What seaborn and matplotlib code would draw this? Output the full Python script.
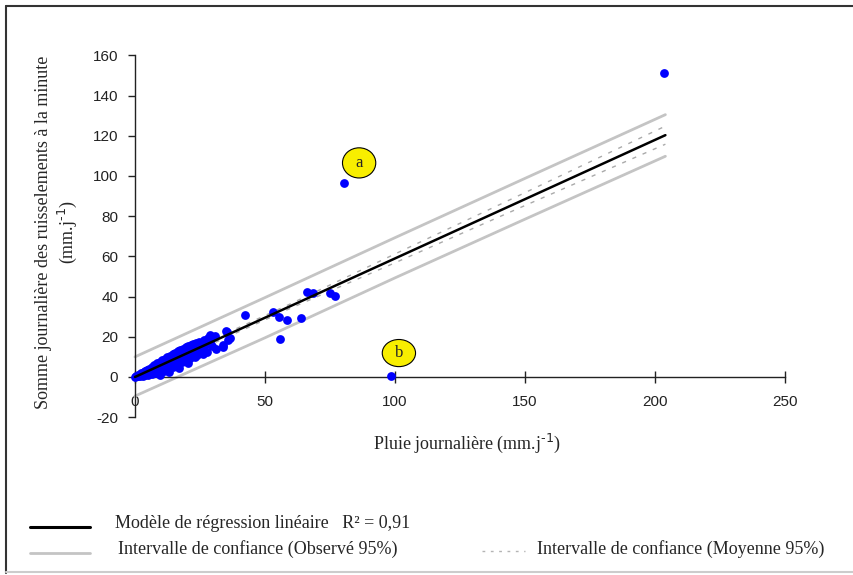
import numpy as np
import pandas as pd
import matplotlib.pyplot as plt
import seaborn as sns
from matplotlib.patches import Ellipse
from matplotlib.lines import Line2D

# daily rainfall (mm/j) vs summed minute runoff (mm/j)
rain = [0, 0.5, 1, 1.5, 2, 2, 2.5, 3, 3, 3.5, 4, 4, 4.5, 5, 5, 5.5, 6, 6, 6.5, 7,
        7, 7.5, 8, 8, 8.5, 9, 9, 9.5, 10, 10, 10.5, 11, 11, 11.5, 12, 12, 12.5, 13,
        13, 13.5, 14, 14, 14.5, 15, 15, 15.5, 16, 16.5, 17, 17, 17.5, 18, 18.5, 19,
        19.5, 20, 20.5, 21, 21.5, 22, 22.5, 23, 23, 24, 25, 25.5, 26, 27, 27.7, 28.8,
        30, 30.8, 31, 33.8, 34, 35.4, 35.8, 36.5, 35,
        1, 2.5, 3.5, 4.5, 5.5, 6.5, 7.5, 8.5, 9.5, 10.5, 11.5, 12.5, 13.5, 14.5,
        15.5, 16.5, 17.5, 18.5, 19.5, 20.5, 21.5, 22.5, 23.5, 24.5, 26.5, 28, 29,
        7, 9, 11, 13, 15, 17, 19, 21, 24, 26, 12, 16, 20, 23, 29.5,
        42.3, 53, 55.4, 58.5, 64, 55.8, 66, 68.5, 75, 77, 80.4, 98.5, 203.5]
runoff = [0, 0.3, 0.5, 1, 1, 0.3, 1.5, 2, 0.5, 2.5, 1, 3, 2, 3, 1, 3.5, 2.5, 4, 1.5, 4.5,
          3, 5, 4, 2, 5.5, 6, 3.5, 1, 6.5, 5, 4.5, 7.5, 3, 6.5, 8, 5.5, 7, 8.5,
          2.5, 6, 9, 7.5, 5, 9.5, 7, 10.5, 8.5, 10, 4.5, 9, 11, 7.5, 9.5, 12,
          10, 11, 7, 13, 10.5, 11, 14, 12, 14.4, 13, 13.4, 15, 11.5, 16, 12.4, 17.4,
          20, 20.4, 14, 14.9, 16, 22.4, 18.4, 19.4, 23,
          1.2, 2.2, 1.8, 3.5, 4.2, 5, 6, 6.8, 7.5, 8.2, 9, 9.8, 10.5, 11.2,
          12, 12.8, 13.2, 14, 14.8, 15.2, 15.8, 16.5, 17, 17.5, 18.5, 19.5, 21,
          2.5, 4.5, 5.5, 6, 6.5, 7, 8.5, 9.5, 11, 13, 4, 6, 8.5, 10, 15.5,
          31, 32.3, 30, 28.4, 29.4, 19, 42.3, 41.8, 41.8, 40.3, 96.5, 0.5, 151.2]

# linear fit and 95 % bands as drawn
fit_x = [0, 204]
fit_y = [0, 120.3]
obs_x = [0, 50, 100, 150, 204]
obs_upper = [10, 39.5, 69.3, 98.8, 130.5]
obs_lower = [-9.5, 19.5, 49.3, 78.5, 109.8]
mean_x = [0, 20, 60, 100, 150, 204]
mean_upper = [1.5, 12.8, 36.5, 61.2, 91.7, 124.8]
mean_lower = [-1.5, 10.8, 34.3, 56.8, 85.3, 115.8]

ytick_vals = [-20, 0, 20, 40, 60, 80, 100, 120, 140, 160]
xtick_vals = [0, 50, 100, 150, 200, 250]

df = pd.DataFrame({"rain": rain, "runoff": runoff})

sns.set_style("white")
plt.rcParams["font.family"] = ["Liberation Serif", "DejaVu Serif"]
plt.rcParams["axes.unicode_minus"] = False

W, H = 854, 575
fig = plt.figure(figsize=(W / 100, H / 100), dpi=100)
ax = fig.add_axes([122 / W, 1 - 421.2 / H, 676 / W, 375.9 / H])
ax.set_xlim(-5, 255)
ax.set_ylim(-22, 165)

sns.lineplot(x=obs_x, y=obs_upper, ax=ax, color="#c4c4c4", lw=2, zorder=2)
sns.lineplot(x=obs_x, y=obs_lower, ax=ax, color="#c4c4c4", lw=2, zorder=2)
sns.lineplot(x=mean_x, y=mean_upper, ax=ax, color="#aaaaaa", lw=1,
             dashes=(3, 5), zorder=2)
sns.lineplot(x=mean_x, y=mean_lower, ax=ax, color="#aaaaaa", lw=1,
             dashes=(3, 5), zorder=2)
sns.scatterplot(data=df, x="rain", y="runoff", ax=ax, color="#0000ff",
                s=40, linewidth=0, zorder=3)
sns.lineplot(x=fit_x, y=fit_y, ax=ax, color="black", lw=1.8, zorder=4)

# labelled outliers a and b
for lab, cx, cy, h in [("a", 86.2, 106.5, 15), ("b", 101.5, 11.9, 13.5)]:
    ax.add_patch(Ellipse((cx, cy), 12.8, h, facecolor="#f8ee00",
                         edgecolor="black", lw=0.8, zorder=5))
    ax.text(cx, cy, lab, ha="center", va="center", fontsize=12, zorder=6)

for side in ["top", "right"]:
    ax.spines[side].set_visible(False)
ax.spines["left"].set_position(("data", 0))
ax.spines["bottom"].set_position(("data", 0))
ax.spines["left"].set_bounds(-20, 160)
ax.spines["bottom"].set_bounds(0, 250)
for side in ["left", "bottom"]:
    ax.spines[side].set_color("#222222")
    ax.spines[side].set_linewidth(1)

ax.set_xticks(xtick_vals)
ax.set_yticks(ytick_vals)
ax.tick_params(axis="y", direction="out", length=5, width=1, pad=7,
               left=True, color="#222222")
ax.tick_params(axis="x", direction="inout", length=8, width=1, pad=9,
               bottom=True, color="#222222")
for t in ax.get_xticklabels() + ax.get_yticklabels():
    t.set_fontfamily("Liberation Sans")
    t.set_fontsize(11)
    t.set_color("#222222")
ax.set_xlabel("")
ax.set_ylabel("")

unit = "(mm.j$^{\\text{-1}}$)"
fig.text(467 / W, 1 - 443 / H, "Pluie journalière " + unit,
         ha="center", va="center", fontsize=13)
fig.text(57 / W, 1 - 232 / H,
         "Somme journalière des ruisselements à la minute\n" + unit,
         ha="center", va="center", rotation=90, fontsize=13, linespacing=1.2)

# legend block under the plot
fig.add_artist(Line2D([30 / W, 90 / W], [1 - 527 / H] * 2, color="black", lw=2.2))
fig.add_artist(Line2D([30 / W, 90 / W], [1 - 553 / H] * 2, color="#c4c4c4", lw=2))
fig.add_artist(Line2D([482 / W, 525 / W], [1 - 551 / H] * 2, color="#b4b4b4",
                      lw=1, dashes=(2, 4)))
fig.text(115 / W, 1 - 523 / H, "Modèle de régression linéaire   R² = 0,91",
         ha="left", va="center", fontsize=13)
fig.text(118 / W, 1 - 549 / H, "Intervalle de confiance (Observé 95%)",
         ha="left", va="center", fontsize=13)
fig.text(537 / W, 1 - 549 / H, "Intervalle de confiance (Moyenne 95%)",
         ha="left", va="center", fontsize=13)

# outer frame
fig.add_artist(Line2D([6 / W, 6 / W], [1 - 6 / H, 1 - 573 / H], color="#333333", lw=1.5))
fig.add_artist(Line2D([6 / W, 1], [1 - 6 / H] * 2, color="#333333", lw=1.5))
fig.add_artist(Line2D([6 / W, 1], [1 - 572 / H] * 2, color="#cccccc", lw=1.5))

fig.savefig("out.png", dpi=100)
